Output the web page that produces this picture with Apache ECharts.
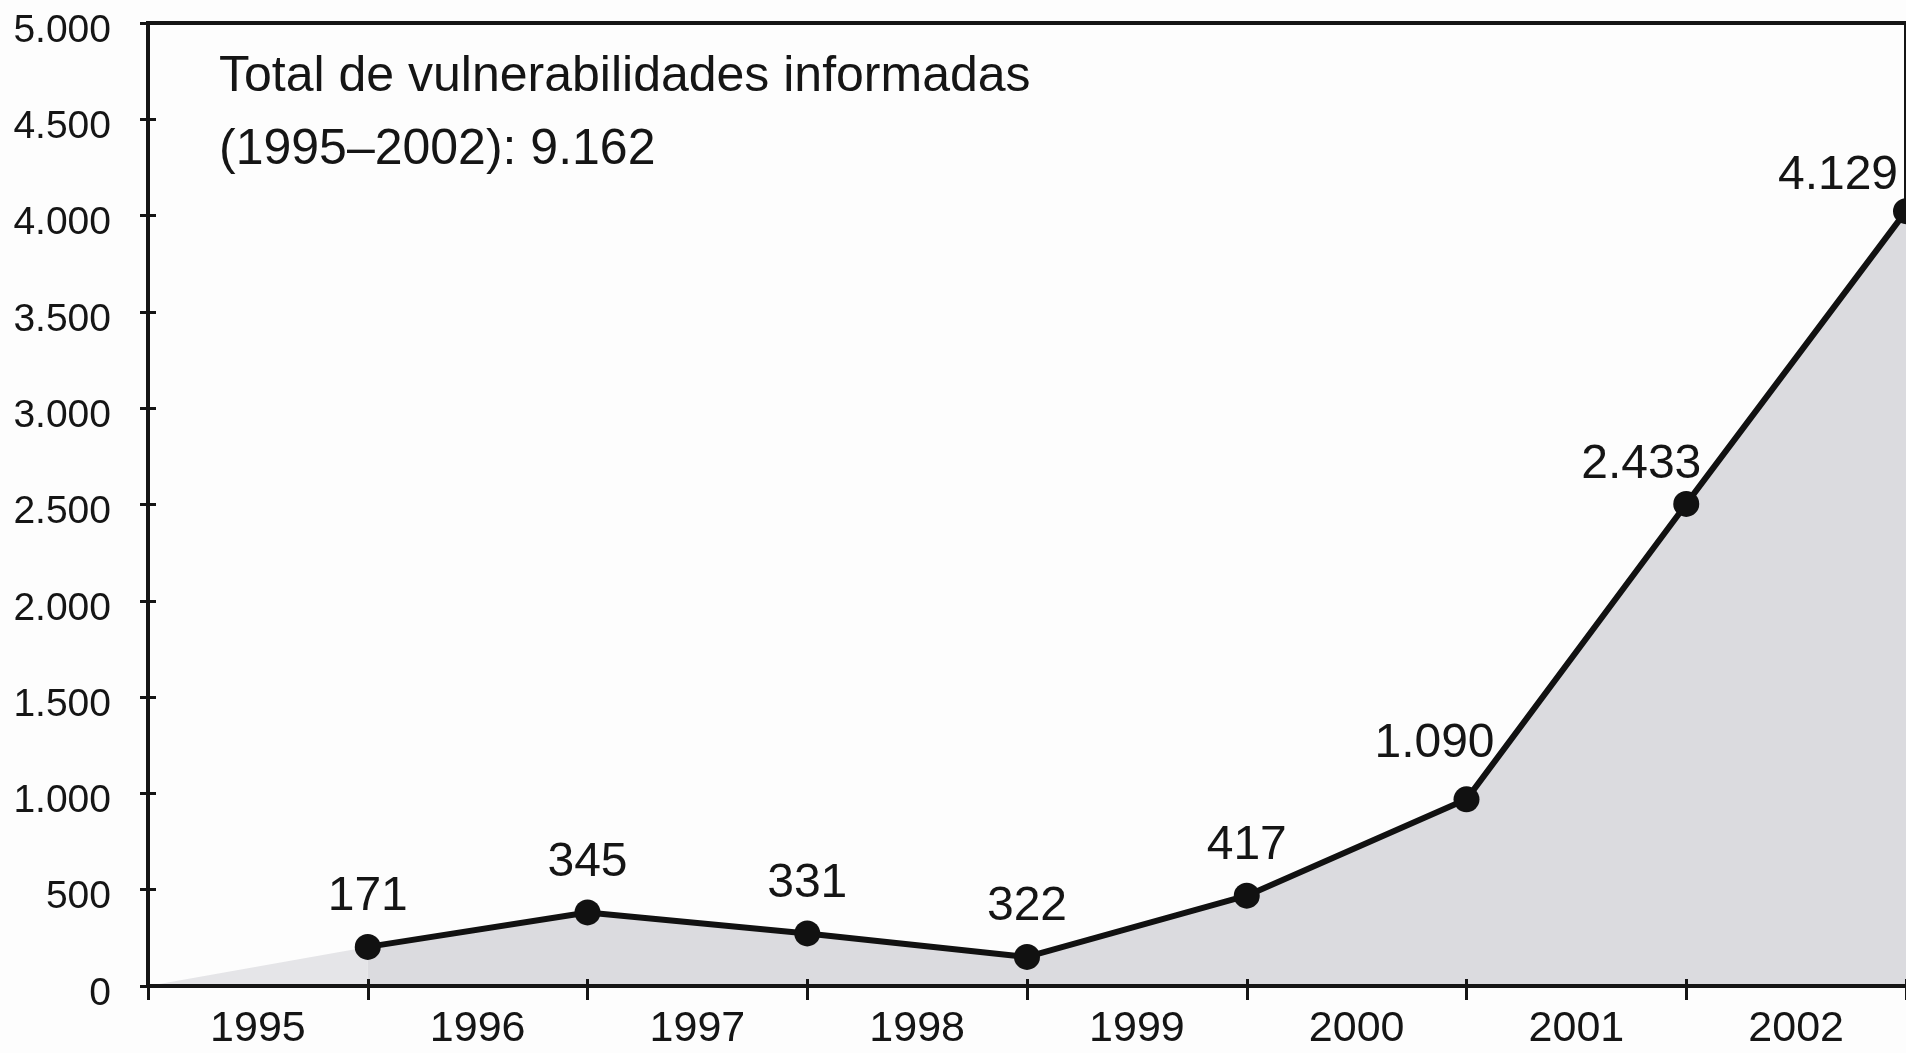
<!DOCTYPE html>
<html>
<head>
<meta charset="utf-8">
<script src="https://cdn.jsdelivr.net/npm/echarts@6/dist/echarts.min.js"></script>
<style>
  html, body { margin: 0; padding: 0; background: #fdfdfd; }
  #chart { width: 1906px; height: 1053px; }
</style>
</head>
<body>
<div id="chart"></div>
<script>
// Categories (years)
const years = ['1995', '1996', '1997', '1998', '1999', '2000', '2001', '2002'];
// Values printed on the chart
const reportedValues = [171, 345, 331, 322, 417, 1090, 2433, 4129];
// Heights at which the points are actually drawn in the picture
const drawnValues = [203, 382, 273, 151, 469, 969, 2503, 4023];
// Y axis ticks
const yMin = 0, yMax = 5000, yStep = 500;
const titleLines = ['Total de vulnerabilidades informadas', '(1995–2002): 9.162'];

const FONT = '"Liberation Sans", Arial, Helvetica, sans-serif';
const INK = '#151515';

function fmtThousands(v) {
  return String(v).replace(/\B(?=(\d{3})+(?!\d))/g, '.');
}

// label nudges for the steep part (style, not data)
const labelNudge = { 5: [-32, -6], 6: [-45, 11], 7: [-68, 15] };

const mainData = drawnValues.map((v, i) => {
  const item = { value: [i + 1, v] };
  if (labelNudge[i]) item.label = { offset: labelNudge[i] };
  return item;
});
const leadData = [[0, yMin], [1, drawnValues[0]]];

const chart = echarts.init(document.getElementById('chart'), null, { renderer: 'canvas' });
chart.setOption({
  backgroundColor: '#fdfdfd',
  animation: false,
  title: {
    text: titleLines.join('\n'),
    left: 219,
    top: 41,
    padding: 0,
    textStyle: { fontFamily: FONT, fontSize: 50, fontWeight: 'normal', lineHeight: 73, color: INK }
  },
  grid: {
    left: 148, right: -8, top: 23, bottom: 67,
    show: true, borderColor: INK, borderWidth: 4, backgroundColor: 'transparent'
  },
  xAxis: [
    {
      type: 'category', data: years, boundaryGap: true, position: 'bottom', z: 10,
      axisLine: { show: true, lineStyle: { color: INK, width: 4 } },
      axisTick: { show: true, alignWithLabel: false, length: 14, lineStyle: { color: INK, width: 3 } },
      axisLabel: { fontFamily: FONT, fontSize: 43, lineHeight: 43, color: INK, margin: 22 },
      splitLine: { show: false }
    },
    {
      // inner half of the crossing ticks
      type: 'category', data: years, boundaryGap: true, position: 'bottom', z: 10, offset: -7,
      axisLine: { show: false, onZero: false },
      axisTick: { show: true, length: 7, lineStyle: { color: INK, width: 3 } },
      axisLabel: { show: false },
      splitLine: { show: false }
    },
    {
      type: 'value', min: 0, max: years.length, show: false
    }
  ],
  yAxis: [
    {
      type: 'value', min: yMin, max: yMax, interval: yStep, z: 10,
      axisLine: { show: true, lineStyle: { color: INK, width: 4 } },
      axisTick: { show: true, length: 8, lineStyle: { color: INK, width: 3 } },
      axisLabel: {
        fontFamily: FONT, fontSize: 39, color: INK, margin: 37,
        verticalAlign: 'top', lineHeight: 16,
        formatter: v => fmtThousands(v)
      },
      splitLine: { show: false }
    },
    {
      // inner half of the crossing ticks
      type: 'value', min: yMin, max: yMax, interval: yStep, position: 'left', z: 10, offset: -8,
      axisLine: { show: false, onZero: false },
      axisTick: { show: true, length: 8, lineStyle: { color: INK, width: 3 } },
      axisLabel: { show: false },
      splitLine: { show: false }
    }
  ],
  series: [
    {
      type: 'line', name: 'lead', xAxisIndex: 2, yAxisIndex: 0,
      data: leadData, symbol: 'none', silent: true, z: 1,
      lineStyle: { width: 0, opacity: 0 },
      areaStyle: { color: '#e5e5e8', opacity: 1 }
    },
    {
      type: 'line', name: 'Vulnerabilidades', xAxisIndex: 2, yAxisIndex: 0,
      data: mainData, symbol: 'circle', symbolSize: 26, z: 3,
      itemStyle: { color: '#111' },
      lineStyle: { color: '#111', width: 6 },
      areaStyle: { color: '#dbdbdf', opacity: 1 },
      label: {
        show: true, position: 'top', distance: 13,
        fontFamily: FONT, fontSize: 48, lineHeight: 48, color: INK,
        formatter: p => fmtThousands(reportedValues[p.dataIndex])
      }
    }
  ]
});
</script>
</body>
</html>
